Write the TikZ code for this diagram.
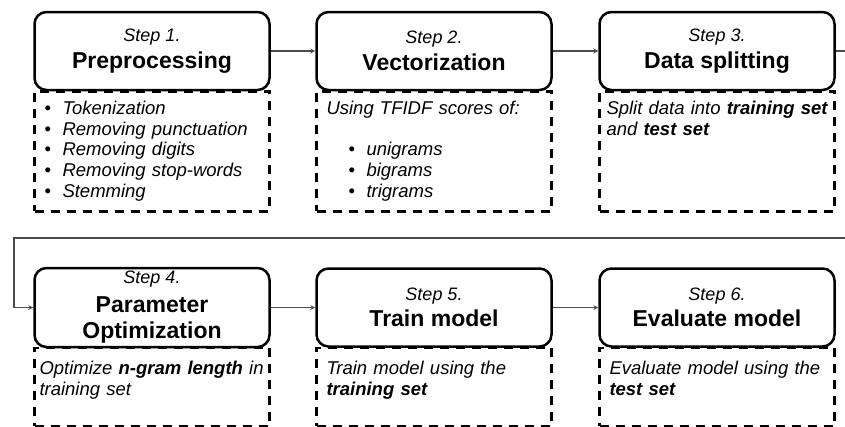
\documentclass[tikz,border=0pt]{standalone}
\usepackage{fontspec}
\setmainfont{Liberation Sans}
\usetikzlibrary{arrows}
\newcommand{\stepfont}{\fontsize{18}{26.5}\selectfont\mdseries\itshape}
\newcommand{\itm}[1]{\makebox[18pt][l]{\upshape\textbullet}#1}
\tikzstyle{stepbox} = [rectangle, rounded corners=12pt, draw, line width=2.5pt, fill=white, minimum width=235pt, minimum height=78pt, align=center, font=\fontsize{23}{26.5}\selectfont\bfseries]
\tikzstyle{detail} = [rectangle, draw, dash pattern=on 9pt off 7pt, line width=2.5pt, anchor=north, minimum width=235pt, text width=215pt, inner xsep=10pt, inner ysep=4pt, align=left, font=\fontsize{18.5}{20.8}\selectfont\itshape]
\tikzstyle{arrow} = [line width=1.2pt, draw=black!70, ->, >=stealth]

\begin{document}
\begin{tikzpicture}[x=1pt, y=1pt]
    \useasboundingbox (0,0) rectangle (845,-426);
    % details under each step
    \node [detail, text height=19pt, text depth=93pt] at (152,-90) (d1) {\itm{Tokenization}\\\itm{Removing punctuation}\\\itm{Removing digits}\\\itm{Removing stop-words}\\\itm{Stemming}};
    \node [detail, text height=19pt, text depth=93pt] at (434,-90) (d2) {Using TFIDF scores of:\\[20.8pt]\hspace*{22pt}\itm{unigrams}\\\hspace*{22pt}\itm{bigrams}\\\hspace*{22pt}\itm{trigrams}};
    \node [detail, text height=19pt, text depth=93pt, text width=227pt, inner xsep=4pt] at (717,-90) (d3) {\hspace*{3pt}Split data into \textbf{training set}\\\hspace*{3pt}and \textbf{test set}};
    \node [detail, text height=23pt, text depth=47.5pt, text width=225pt, inner xsep=5pt] at (152,-346.5) (d4) {Optimize \textbf{n-gram length} in\\training set};
    \node [detail, text height=23pt, text depth=47.5pt] at (434,-346.5) (d5) {Train model using the\\\textbf{training set}};
    \node [detail, text height=23pt, text depth=47.5pt] at (717,-346.5) (d6) {Evaluate model using the\\\textbf{test set}};
    % steps
    \node [stepbox] at (152,-51) (s1) {{\stepfont Step 1.}\\Preprocessing};
    \node [stepbox] at (434,-51) (s2) {{\stepfont Step 2.}\\Vectorization};
    \node [stepbox] at (717,-51) (s3) {{\stepfont Step 3.}\\Data splitting};
    \node [stepbox] at (152,-307.5) (s4) {{\stepfont Step 4.}\\[2pt]Parameter\\Optimization};
    \node [stepbox] at (434,-307.5) (s5) {{\stepfont Step 5.}\\Train model};
    \node [stepbox] at (717,-307.5) (s6) {{\stepfont Step 6.}\\Evaluate model};
    \coordinate (turn) at (14,-238);
    \draw [arrow] (s1) -- (s2);
    \draw [arrow] (s2) -- (s3);
    \draw [arrow] (s3.east) -- ++(10,0) |- (turn) |- (s4.west);
    \draw [arrow] (s4) -- (s5);
    \draw [arrow] (s5) -- (s6);
\end{tikzpicture}
\end{document}
